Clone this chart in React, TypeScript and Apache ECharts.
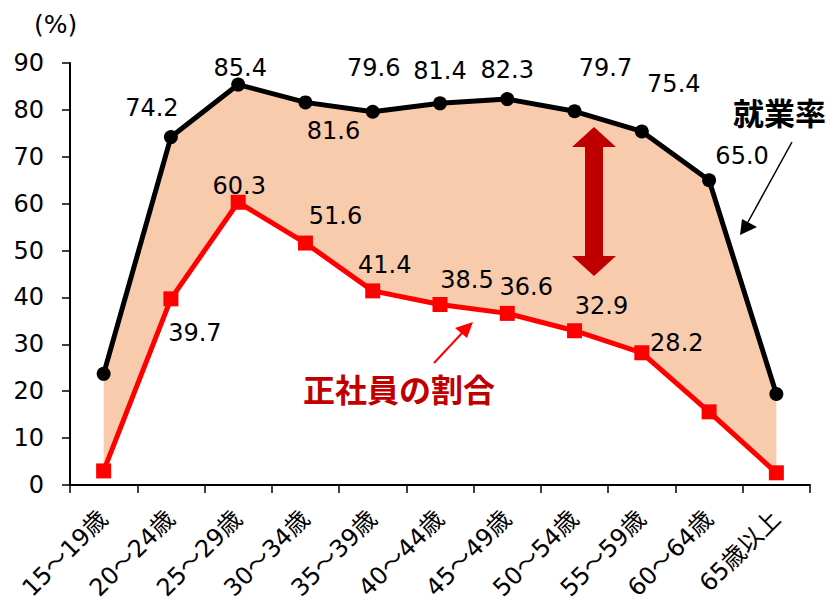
import React, { useEffect, useRef } from "react";
import * as echarts from "echarts";

const categories = ["15～19歳", "20～24歳", "25～29歳", "30～34歳", "35～39歳", "40～44歳", "45～49歳", "50～54歳", "55～59歳", "60～64歳", "65歳以上"];
const employmentRate = [23.7, 74.2, 85.4, 81.6, 79.6, 81.4, 82.3, 79.7, 75.4, 65.0, 19.4];
const regularShare = [3.0, 39.7, 60.3, 51.6, 41.4, 38.5, 36.6, 32.9, 28.2, 15.6, 2.6];
const yTicks = [0, 10, 20, 30, 40, 50, 60, 70, 80, 90];

// label placement offsets (px) relative to each point; null = no label
const empLabelOffsets: (number[] | null)[] = [null, [-19, -29], [2, -17], [28, 29], [1, -44], [0, -32], [0, -29], [31, -43], [32, -47], [33, -24], null];
const regLabelOffsets: (number[] | null)[] = [null, [24, 34], [1, -16], [30, -27], [12, -26], [27, -24], [19, -26], [27, -25], [35, -10], null, null];

const FONT = "'DejaVu Sans', 'Noto Sans CJK JP', sans-serif";
const CJK = "'Noto Sans CJK JP', sans-serif";

function withLabels(values: number[], offsets: (number[] | null)[]) {
  return values.map((v, i) => {
    const off = offsets[i];
    if (!off) return { value: v, label: { show: false } };
    return {
      value: v,
      label: {
        show: true,
        position: "inside",
        offset: off,
        formatter: v.toFixed(1),
        color: "#000",
        fontSize: 24,
        fontFamily: FONT,
      },
    };
  });
}

export default function App() {
  const ref = useRef<HTMLDivElement>(null);
  useEffect(() => {
    if (!ref.current) return;
    const chart = echarts.init(ref.current, undefined, { renderer: "svg" });
    const diff = employmentRate.map((v, i) => +(v - regularShare[i]).toFixed(1));
    chart.setOption({
      animation: false,
      grid: { left: 70, right: 24, top: 63, bottom: 118 },
      xAxis: {
        type: "category",
        data: categories,
        boundaryGap: true,
        axisLine: { lineStyle: { color: "#000", width: 2 } },
        axisTick: { show: true, length: 8, lineStyle: { color: "#000", width: 1.5 } },
        axisLabel: { rotate: 45, fontSize: 24, color: "#000", fontFamily: FONT, margin: 30, interval: 0 },
      },
      yAxis: {
        type: "value",
        min: yTicks[0],
        max: yTicks[yTicks.length - 1],
        interval: 10,
        splitLine: { show: false },
        axisLine: { show: true, lineStyle: { color: "#000", width: 2 } },
        axisTick: { show: true, length: 8, lineStyle: { color: "#000", width: 1.5 } },
        axisLabel: { fontSize: 24, color: "#000", fontFamily: FONT, margin: 26 },
      },
      series: [
        {
          type: "line",
          stack: "band",
          data: regularShare,
          symbol: "none",
          lineStyle: { opacity: 0 },
          silent: true,
          z: 1,
        },
        {
          type: "line",
          stack: "band",
          data: diff,
          symbol: "none",
          lineStyle: { opacity: 0 },
          areaStyle: { color: "#F8CBAD", opacity: 1 },
          silent: true,
          z: 1,
        },
        {
          name: "就業率",
          type: "line",
          data: withLabels(employmentRate, empLabelOffsets),
          symbol: "circle",
          symbolSize: 14,
          itemStyle: { color: "#000" },
          lineStyle: { color: "#000", width: 5 },
          z: 3,
        },
        {
          name: "正社員の割合",
          type: "line",
          data: withLabels(regularShare, regLabelOffsets),
          symbol: "rect",
          symbolSize: 15,
          itemStyle: { color: "#FF0000" },
          lineStyle: { color: "#FF0000", width: 5 },
          z: 4,
        },
      ],
      graphic: [
        { type: "text", x: 34, y: 12, style: { text: "(%)", fontSize: 25, fill: "#000", fontFamily: FONT } },
        { type: "text", x: 733, y: 96, style: { text: "就業率", fontSize: 31, fontWeight: "bold", fill: "#000", fontFamily: CJK } },
        { type: "line", shape: { x1: 792, y1: 142, x2: 748, y2: 222 }, style: { stroke: "#000", lineWidth: 1.5 } },
        { type: "polygon", shape: { points: [[740, 235], [742, 219], [757, 227]] }, style: { fill: "#000" } },
        { type: "text", x: 303, y: 372, style: { text: "正社員の割合", fontSize: 32, fontWeight: "bold", fill: "#C00000", fontFamily: CJK } },
        { type: "line", shape: { x1: 434, y1: 363, x2: 463, y2: 332 }, style: { stroke: "#FF0000", lineWidth: 2 } },
        { type: "polygon", shape: { points: [[473, 322], [455, 328], [467, 338]] }, style: { fill: "#FF0000" } },
        {
          type: "polygon",
          shape: {
            points: [
              [594, 127], [616, 147], [603, 147], [603, 256], [616, 256], [594, 276],
              [572, 256], [585, 256], [585, 147], [572, 147],
            ],
          },
          style: { fill: "#C00000" },
          z: 10,
        },
      ],
    });
    return () => chart.dispose();
  }, []);
  return <div ref={ref} style={{ width: 834, height: 603, position: "absolute", left: 0, top: 0, background: "#fff" }} />;
}
